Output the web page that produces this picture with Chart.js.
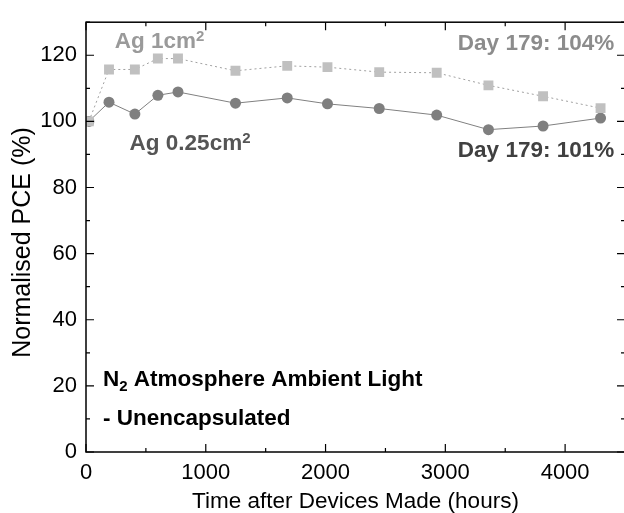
<!DOCTYPE html>
<html>
<head>
<meta charset="utf-8">
<script src="https://cdn.jsdelivr.net/npm/chart.js@4.4.1/dist/chart.umd.min.js"></script>
<style>
  html, body { margin: 0; padding: 0; background: #fff; overflow: hidden; }
  #wrap { width: 632px; height: 513px; }
</style>
</head>
<body>
<div id="wrap"><canvas id="pce" width="632" height="513"></canvas></div>
<script>
// hours since fabrication (one reading per measurement day)
const hours = [24, 192, 408, 600, 768, 1248, 1680, 2016, 2448, 2928, 3360, 3816, 4296];
const pceAg1 = [100, 115.7, 115.7, 119.0, 119.0, 115.3, 116.8, 116.4, 114.9, 114.7, 110.9, 107.6, 104];
const pceAg025 = [100, 105.8, 102.2, 107.9, 108.9, 105.5, 107.1, 105.3, 103.9, 101.9, 97.5, 98.6, 101];
const xTicks = [0, 1000, 2000, 3000, 4000];
const yTicks = [0, 20, 40, 60, 80, 100, 120];

const FONT = '"Liberation Sans", Arial, Helvetica, sans-serif';

// text labels inside the plot, anchored in data units
const notes = [
  { parts: [['Ag 1cm', ''], ['2', 'sup']], x: 240, y: 124.2, align: 'left', color: '#9a9a9a' },
  { parts: [['Ag 0.25cm', ''], ['2', 'sup']], x: 364, y: 93.2, align: 'left', color: '#555555' },
  { parts: [['Day 179: 104%', '']], x: 4410, y: 123.4, align: 'right', color: '#8c8c8c' },
  { parts: [['Day 179: 101%', '']], x: 4410, y: 91.1, align: 'right', color: '#404040' },
  { parts: [['N', ''], ['2', 'sub'], [' Atmosphere Ambient Light', '']], x: 141, y: 21.9, align: 'left', color: '#000' },
  { parts: [['- Unencapsulated', '']], x: 141, y: 10.1, align: 'left', color: '#000' }
];

function drawRich(ctx, note, px, py) {
  const big = 'bold 22.5px ' + FONT, small = 'bold 15px ' + FONT;
  let total = 0;
  note.parts.forEach(p => {
    ctx.font = p[1] ? small : big;
    total += ctx.measureText(p[0]).width;
  });
  let x = note.align === 'right' ? px - total : px;
  ctx.fillStyle = note.color;
  ctx.textAlign = 'left';
  ctx.textBaseline = 'middle';
  note.parts.forEach(p => {
    ctx.font = p[1] ? small : big;
    let dy = 0;
    if (p[1] === 'sup') dy = -5;
    if (p[1] === 'sub') dy = 7;
    ctx.fillText(p[0], x, py + dy);
    x += ctx.measureText(p[0]).width;
  });
}

// frame with inward ticks on all four sides, y title and the annotations
const framePlugin = {
  id: 'frame',
  afterDatasetsDraw(chart) {
    const { ctx, chartArea: a, scales } = chart;
    const xs = scales.x, ys = scales.y;
    ctx.save();
    ctx.strokeStyle = '#000';
    ctx.lineWidth = 1.5;
    ctx.strokeRect(a.left, a.top, a.right - a.left, a.bottom - a.top);
    ctx.lineWidth = 1.2;
    ctx.beginPath();
    for (let v = 0; v <= 4500; v += 500) {
      const px = xs.getPixelForValue(v);
      const len = v % 1000 === 0 ? 8 : 4;
      ctx.moveTo(px, a.bottom); ctx.lineTo(px, a.bottom - len);
      ctx.moveTo(px, a.top); ctx.lineTo(px, a.top + len);
    }
    for (let v = 0; v <= 130; v += 10) {
      const py = ys.getPixelForValue(v);
      const len = v % 20 === 0 ? 8 : 4;
      ctx.moveTo(a.left, py); ctx.lineTo(a.left + len, py);
      ctx.moveTo(a.right, py); ctx.lineTo(a.right - len, py);
    }
    ctx.stroke();

    // y axis title sits a little below the plot centre
    ctx.translate(23, 242.5);
    ctx.rotate(-Math.PI / 2);
    ctx.font = '25px ' + FONT;
    ctx.fillStyle = '#000';
    ctx.textAlign = 'center';
    ctx.textBaseline = 'middle';
    ctx.fillText('Normalised PCE (%)', 0, 0);
    ctx.setTransform(1, 0, 0, 1, 0, 0);

    notes.forEach(n => drawRich(ctx, n, xs.getPixelForValue(n.x), ys.getPixelForValue(n.y)));
    ctx.restore();
  }
};

new Chart(document.getElementById('pce'), {
  type: 'line',
  data: {
    datasets: [
      {
        label: 'Ag 1cm2',
        data: hours.map((h, i) => ({ x: h, y: pceAg1[i] })),
        borderColor: '#a0a0a0',
        borderWidth: 1,
        borderDash: [2, 3],
        pointStyle: 'rect',
        pointRadius: 7,
        pointBackgroundColor: '#c0c0c0',
        pointBorderWidth: 0,
        order: 0
      },
      {
        label: 'Ag 0.25cm2',
        data: hours.map((h, i) => ({ x: h, y: pceAg025[i] })),
        borderColor: '#808080',
        borderWidth: 1,
        pointStyle: 'circle',
        pointRadius: 5.5,
        pointBackgroundColor: '#7f7f7f',
        pointBorderWidth: 0,
        order: 1
      }
    ]
  },
  options: {
    responsive: false,
    animation: false,
    layout: { padding: { left: 0, top: 13, right: 2.4, bottom: 0 } },
    plugins: { legend: { display: false }, tooltip: { enabled: false } },
    scales: {
      x: {
        type: 'linear', min: 0, max: 4500,
        afterBuildTicks: s => { s.ticks = xTicks.map(v => ({ value: v })); },
        afterFit: s => { s.height = 61; },
        grid: { display: false, drawTicks: false },
        border: { display: false },
        ticks: { color: '#000', padding: 8, maxRotation: 0, font: { family: FONT, size: 22 },
                 callback: v => String(v) },
        title: { display: true, text: 'Time after Devices Made (hours)', color: '#000', padding: 0,
                 font: { family: FONT, size: 22.5, lineHeight: 1 } }
      },
      y: {
        min: 0, max: 130,
        afterBuildTicks: s => { s.ticks = yTicks.map(v => ({ value: v })); },
        afterFit: s => { s.width = 86; },
        grid: { display: false, drawTicks: false },
        border: { display: false },
        ticks: { color: '#000', padding: 9, font: { family: FONT, size: 22 } },
        title: { display: false }
      }
    }
  },
  plugins: [framePlugin]
});
</script>
</body>
</html>
